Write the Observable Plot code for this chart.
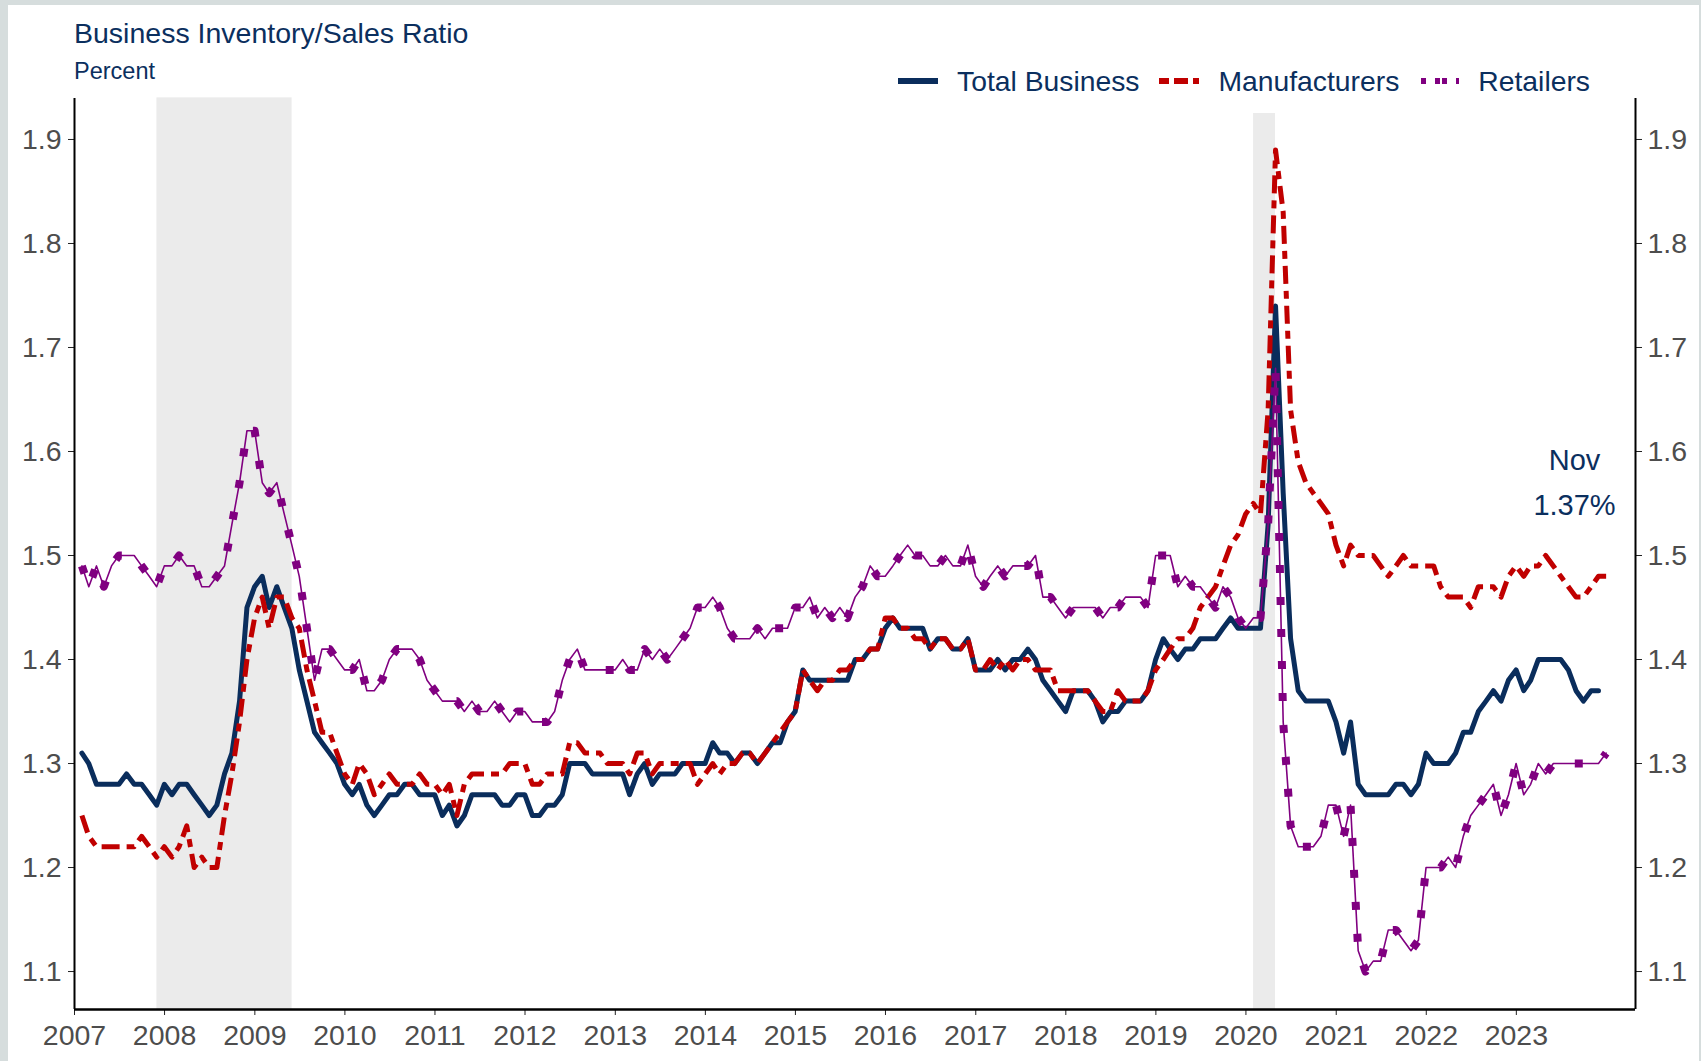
<!DOCTYPE html>
<html>
<head>
<meta charset="utf-8">
<script src="https://cdn.jsdelivr.net/npm/d3@7"></script>
<script src="https://cdn.jsdelivr.net/npm/@observablehq/plot@0.6"></script>
<style>
  html, body { margin: 0; padding: 0; width: 1701px; height: 1061px; overflow: hidden; background: #d6dddd; }
  #panel { position: absolute; left: 8px; top: 5px; width: 1691px; height: 1056px; background: #ffffff; }
  .txt { position: absolute; font-family: "Liberation Sans", Arial, sans-serif; color: #0b2f5e; line-height: 1; white-space: nowrap; }
  #title { left: 74px; top: 19px; font-size: 28.5px; }
  #sub { left: 74px; top: 60px; font-size: 23.5px; }
  #legend { left: 898px; top: 67px; height: 28px; display: flex; align-items: center; font-size: 28.3px; }
  #legend svg { display: block; margin-right: 19px; }
  #legend span { margin-right: 20px; }
  #chart { position: absolute; left: 8px; top: 60px; }
</style>
</head>
<body>
<div id="panel"></div>
<div id="title" class="txt">Business Inventory/Sales Ratio</div>
<div id="sub" class="txt">Percent</div>
<div id="legend" class="txt"></div>
<div id="chart"></div>
<script>
// ---- data (monthly, starting Jan 2007) ----
const startYear = 2007;
const monthNames = ["Jan","Feb","Mar","Apr","May","Jun","Jul","Aug","Sep","Oct","Nov","Dec"];

const totalBusiness = [
  1.31,1.30,1.28,1.28,1.28,1.28,1.29,1.28,1.28,1.27,1.26,1.28, // 2007
  1.27,1.28,1.28,1.27,1.26,1.25,1.26,1.29,1.31,1.36,1.45,1.47, // 2008
  1.48,1.45,1.47,1.45,1.43,1.39,1.36,1.33,1.32,1.31,1.30,1.28, // 2009
  1.27,1.28,1.26,1.25,1.26,1.27,1.27,1.28,1.28,1.27,1.27,1.27, // 2010
  1.25,1.26,1.24,1.25,1.27,1.27,1.27,1.27,1.26,1.26,1.27,1.27, // 2011
  1.25,1.25,1.26,1.26,1.27,1.30,1.30,1.30,1.29,1.29,1.29,1.29, // 2012
  1.29,1.27,1.29,1.30,1.28,1.29,1.29,1.29,1.30,1.30,1.30,1.30, // 2013
  1.32,1.31,1.31,1.30,1.31,1.31,1.30,1.31,1.32,1.32,1.34,1.35, // 2014
  1.39,1.38,1.38,1.38,1.38,1.38,1.38,1.40,1.40,1.41,1.41,1.43, // 2015
  1.44,1.43,1.43,1.43,1.43,1.41,1.42,1.42,1.41,1.41,1.42,1.39, // 2016
  1.39,1.39,1.40,1.39,1.40,1.40,1.41,1.40,1.38,1.37,1.36,1.35, // 2017
  1.37,1.37,1.37,1.36,1.34,1.35,1.35,1.36,1.36,1.36,1.37,1.40, // 2018
  1.42,1.41,1.40,1.41,1.41,1.42,1.42,1.42,1.43,1.44,1.43,1.43, // 2019
  1.43,1.43,1.53,1.74,1.56,1.42,1.37,1.36,1.36,1.36,1.36,1.34, // 2020
  1.31,1.34,1.28,1.27,1.27,1.27,1.27,1.28,1.28,1.27,1.28,1.31, // 2021
  1.30,1.30,1.30,1.31,1.33,1.33,1.35,1.36,1.37,1.36,1.38,1.39, // 2022
  1.37,1.38,1.40,1.40,1.40,1.40,1.39,1.37,1.36,1.37,1.37       // 2023 (to Nov)
];

const manufacturers = [
  1.25,1.23,1.22,1.22,1.22,1.22,1.22,1.22,1.23,1.22,1.21,1.22, // 2007
  1.21,1.22,1.24,1.20,1.21,1.20,1.20,1.25,1.29,1.34,1.40,1.44, // 2008
  1.46,1.43,1.46,1.46,1.44,1.43,1.39,1.36,1.33,1.33,1.31,1.29, // 2009
  1.28,1.30,1.29,1.27,1.28,1.29,1.28,1.28,1.28,1.29,1.28,1.28, // 2010
  1.27,1.28,1.25,1.28,1.29,1.29,1.29,1.29,1.29,1.30,1.30,1.30, // 2011
  1.28,1.28,1.29,1.29,1.29,1.32,1.32,1.31,1.31,1.31,1.30,1.30, // 2012
  1.30,1.29,1.31,1.31,1.29,1.30,1.30,1.30,1.30,1.30,1.28,1.29, // 2013
  1.30,1.29,1.30,1.30,1.31,1.31,1.30,1.31,1.32,1.33,1.34,1.35, // 2014
  1.39,1.38,1.37,1.38,1.38,1.39,1.39,1.40,1.40,1.41,1.41,1.44, // 2015
  1.44,1.43,1.43,1.42,1.42,1.41,1.42,1.42,1.41,1.41,1.42,1.39, // 2016
  1.39,1.40,1.39,1.40,1.39,1.40,1.40,1.39,1.39,1.39,1.37,1.37, // 2017
  1.37,1.37,1.37,1.36,1.35,1.35,1.37,1.36,1.36,1.36,1.37,1.39, // 2018
  1.40,1.41,1.42,1.42,1.43,1.45,1.46,1.47,1.49,1.51,1.52,1.54, // 2019
  1.55,1.54,1.64,1.89,1.83,1.64,1.59,1.57,1.56,1.55,1.54,1.51, // 2020
  1.49,1.51,1.50,1.50,1.50,1.49,1.48,1.49,1.50,1.49,1.49,1.49, // 2021
  1.49,1.47,1.46,1.46,1.46,1.45,1.47,1.47,1.47,1.46,1.48,1.49, // 2022
  1.48,1.49,1.49,1.50,1.49,1.48,1.47,1.46,1.46,1.47,1.48,1.48  // 2023
];

const retailers = [
  1.49,1.47,1.49,1.47,1.49,1.50,1.50,1.50,1.49,1.48,1.47,1.49, // 2007
  1.49,1.50,1.49,1.49,1.47,1.47,1.48,1.49,1.53,1.57,1.62,1.62, // 2008
  1.57,1.56,1.57,1.54,1.51,1.48,1.43,1.38,1.41,1.41,1.40,1.39, // 2009
  1.39,1.40,1.37,1.37,1.38,1.40,1.41,1.41,1.41,1.40,1.38,1.37, // 2010
  1.36,1.36,1.36,1.35,1.36,1.35,1.35,1.36,1.35,1.34,1.35,1.35, // 2011
  1.34,1.34,1.34,1.35,1.38,1.40,1.41,1.39,1.39,1.39,1.39,1.39, // 2012
  1.40,1.39,1.39,1.41,1.40,1.41,1.40,1.41,1.42,1.43,1.45,1.45, // 2013
  1.46,1.45,1.43,1.42,1.42,1.42,1.43,1.42,1.43,1.43,1.43,1.45, // 2014
  1.45,1.46,1.44,1.45,1.44,1.45,1.44,1.46,1.47,1.49,1.48,1.48, // 2015
  1.49,1.50,1.51,1.50,1.50,1.49,1.49,1.50,1.49,1.49,1.51,1.48, // 2016
  1.47,1.48,1.49,1.48,1.49,1.49,1.49,1.50,1.46,1.46,1.45,1.44, // 2017
  1.45,1.45,1.45,1.45,1.44,1.45,1.45,1.46,1.46,1.46,1.45,1.50, // 2018
  1.50,1.50,1.47,1.48,1.47,1.47,1.46,1.45,1.47,1.46,1.44,1.43, // 2019
  1.44,1.44,1.53,1.68,1.34,1.24,1.22,1.22,1.22,1.23,1.26,1.26, // 2020
  1.23,1.26,1.12,1.10,1.11,1.11,1.14,1.14,1.13,1.12,1.13,1.20, // 2021
  1.20,1.20,1.21,1.20,1.23,1.25,1.26,1.27,1.28,1.25,1.27,1.30, // 2022
  1.27,1.28,1.30,1.29,1.30,1.30,1.30,1.30,1.30,1.30,1.30,1.31  // 2023
];

// recession shading (start, end, top of shade)
const recessionStart = ["2007-12-01", "2020-02-01"];
const recessionEnd   = ["2009-06-01", "2020-04-30"];
const recessionTop   = [1.94, 1.925];

const yTicks = [1.1, 1.2, 1.3, 1.4, 1.5, 1.6, 1.7, 1.8, 1.9];
const yearTicks = [2007,2008,2009,2010,2011,2012,2013,2014,2015,2016,2017,2018,2019,2020,2021,2022,2023];

const seriesNames = ["Total Business", "Manufacturers", "Retailers"];
const colors = { navy: "#0a2d5c", red: "#c00000", purple: "#800080", text: "#0b2f5e" };

// ---- build tables ----
const monthEnd = i => new Date(Date.UTC(startYear, i + 1, 0));
const toRows = arr => arr.map((v, i) => ({ date: monthEnd(i), value: v }));
const totalRows = toRows(totalBusiness);
const manufRows = toRows(manufacturers);
const retailRows = toRows(retailers);
const recessions = recessionStart.map((s, k) => ({
  start: new Date(s + "T00:00:00Z"), end: new Date(recessionEnd[k] + "T00:00:00Z"), top: recessionTop[k]
}));
const lastIdx = totalBusiness.length - 1;
const note = [{
  date: monthEnd(lastIdx),
  value: totalBusiness[lastIdx],
  label: monthNames[lastIdx % 12] + "\n" + totalBusiness[lastIdx].toFixed(2) + "%"
}];

const xDomain = [new Date(Date.UTC(2007, 0, 1)), new Date(Date.UTC(2024, 3, 28))];
const yDomain = [1.0635, 1.9394];

// ---- legend ----
const legend = document.getElementById("legend");
const samples = [
  `<svg width="40" height="14"><line x1="0" y1="7" x2="40" y2="7" stroke="${colors.navy}" stroke-width="6"/></svg>`,
  `<svg width="40" height="14"><line x1="0" y1="7" x2="40" y2="7" stroke="${colors.red}" stroke-width="6" stroke-dasharray="10,5,14,5"/></svg>`,
  `<svg width="40" height="14"><line x1="2" y1="7" x2="40" y2="7" stroke="${colors.purple}" stroke-width="6" stroke-dasharray="5,9,5,2"/></svg>`
];
seriesNames.forEach((name, k) => {
  legend.insertAdjacentHTML("beforeend", samples[k] + `<span>${name}</span>`);
});

// ---- chart ----
const chart = Plot.plot({
  width: 1692,
  height: 1001,
  marginLeft: 66,
  marginRight: 65,
  marginTop: 38,
  marginBottom: 52,
  style: { background: "transparent", fontFamily: "'Liberation Sans', Arial, sans-serif", fontSize: "28.5px", overflow: "visible" },
  x: { type: "utc", domain: xDomain },
  y: { domain: yDomain },
  marks: [
    Plot.rect(recessions, { x1: "start", x2: "end", y1: yDomain[0], y2: "top", fill: "#ebebeb" }),
    Plot.axisY({ anchor: "left", ticks: yTicks, tickSize: 6, tickPadding: 7, tickFormat: d3.format(".1f"), label: null, stroke: "#222", fill: "#4d4d4d" }),
    Plot.axisY({ anchor: "right", ticks: yTicks, tickSize: 6, tickPadding: 6, tickFormat: d3.format(".1f"), label: null, stroke: "#222", fill: "#4d4d4d" }),
    Plot.axisX({ ticks: yearTicks.map(y => new Date(Date.UTC(y, 0, 1))), tickFormat: d3.utcFormat("%Y"), tickSize: 6, tickPadding: 9, label: null, stroke: "#222", fill: "#4d4d4d" }),
    Plot.ruleX(xDomain, { stroke: "#000", strokeWidth: 2 }),
    Plot.ruleY([yDomain[0]], { stroke: "#000", strokeWidth: 2.5 }),
    Plot.line(totalRows, { x: "date", y: "value", stroke: colors.navy, strokeWidth: 5, strokeLinejoin: "round" }),
    Plot.line(manufRows, { x: "date", y: "value", stroke: colors.red, strokeWidth: 5, strokeDasharray: "18,7,8,7", strokeLinecap: "butt" }),
    Plot.line(retailRows, { x: "date", y: "value", stroke: colors.purple, strokeWidth: 1.6 }),
    Plot.line(retailRows, { x: "date", y: "value", stroke: colors.purple, strokeWidth: 8, strokeDasharray: "8,24", strokeLinecap: "butt" }),
    Plot.text(note, { x: "date", y: "value", text: "label", dx: -24, dy: -213, fill: colors.text, fontSize: 29, lineHeight: 1.55 })
  ]
});
document.getElementById("chart").appendChild(chart);
</script>
</body>
</html>
